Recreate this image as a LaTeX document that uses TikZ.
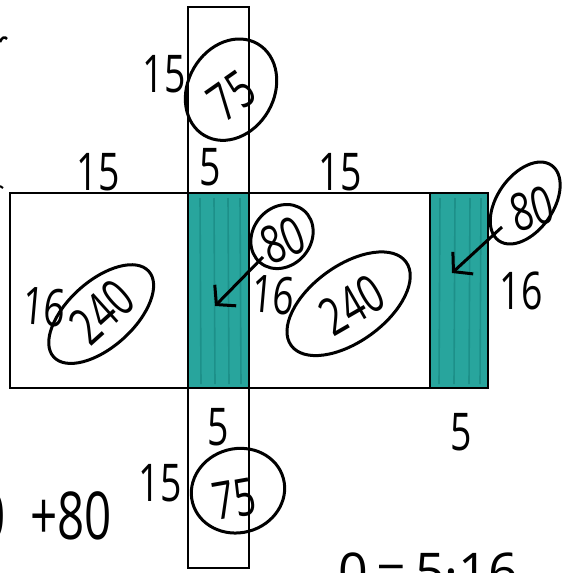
\documentclass[tikz,border=0pt]{standalone}
\usepackage{fontspec}
\setmainfont{Open Sans}
\usepackage{graphicx}
\usetikzlibrary{arrows.meta}
\definecolor{tealfill}{RGB}{40,165,157}
\definecolor{tealdark}{RGB}{20,128,122}
\newcommand{\hw}[1]{\scalebox{0.72}[1]{#1}}
\begin{document}
\begin{tikzpicture}[x=1pt,y=-1pt,
  outline/.style={draw=black,line width=2.6pt},
  lbl/.style={font=\fontsize{52}{52}\selectfont,inner sep=0pt},
  ringline/.style={draw=black,line width=3pt},
  pointer/.style={line width=3pt,-{Straight Barb[length=13pt,width=30pt]}},
  streak/.style={draw=tealdark,line width=1.6pt,opacity=0.55}]
\useasboundingbox (0,0) rectangle (568,573);
\fill[white] (0,0) rectangle (568,573);

% teal strips
\fill[tealfill] (188,193) rectangle (249,388);
\fill[tealfill] (430,193) rectangle (488,388);
\foreach \x in {200,214,228,240} {\draw[streak] (\x,198) -- (\x+1,384);}
\foreach \x in {440,455,470,481} {\draw[streak] (\x,198) -- (\x-1,384);}

% outlines
\draw[outline] (188,7) rectangle (249,568);
\draw[outline] (10,193) rectangle (488,388);
\draw[outline] (430,193) -- (430,388);

% length labels
\node[lbl] (l15tl) at (164,74) {\hw{15}};
\node[lbl] (l5t) at (210,167) {\hw{5}};
\node[lbl] (l15a) at (98,172) {\hw{15}};
\node[lbl] (l15b) at (340,172) {\hw{15}};
\node[lbl,rotate=-5] (l16l) at (44,307) {\hw{16}};
\node[lbl,rotate=-5] (l16m) at (273,295) {\hw{16}};
\node[lbl] (l16r) at (521,291) {\hw{16}};
\node[lbl] (l5b) at (218,427) {\hw{5}};
\node[lbl] (l5r) at (461,432) {\hw{5}};
\node[lbl] (l15bl) at (160,483) {\hw{15}};

% circled areas
\node[lbl,rotate=35] (t75t) at (232,96) {\hw{75}};
\draw[ringline,rotate around={60:(t75t.center)}] (237,92) ellipse [x radius=53,y radius=43];

\node[lbl,rotate=42] (t240l) at (102,312) {\hw{240}};
\draw[ringline,rotate around={42:(t240l.center)}] (100,313) ellipse [x radius=64,y radius=33];

\node[lbl,rotate=30] (t240m) at (352,305) {\hw{240}};
\draw[ringline,rotate around={36:(t240m.center)}] (350,302) ellipse [x radius=71,y radius=38];

\node[lbl,rotate=22] (t80m) at (283,240) {\hw{80}};
\draw[ringline,rotate around={50:(t80m.center)}] (285,237) ellipse [x radius=34,y radius=29];

\node[lbl,rotate=15] (t80r) at (532,209) {\hw{80}};
\draw[ringline,rotate around={55:(t80r.center)}] (533,200) ellipse [x radius=46,y radius=28];

\node[lbl,rotate=10] (t75b) at (234,499) {\hw{75}};
\draw[ringline,rotate around={15:(t75b.center)}] (240,492) ellipse [x radius=47,y radius=42];

% arrows
\coordinate (a1s) at (263,257);
\coordinate (a1e) at (215,306);
\coordinate (a2s) at (502,227);
\coordinate (a2e) at (452,273);
\draw[pointer] (a1s) -- (a1e);
\draw[pointer] (a2s) -- (a2e);

% partial texts at the edges
\node[lbl,font=\fontsize{66}{66}\selectfont,anchor=east] (sum) at (112,516) {\hw{0\hspace{34pt}+80}};
\node[lbl,anchor=north west] (eq) at (338,553) {0\,=\,5·16};
\draw[line width=2.5pt] (0,42) .. controls (2,37) and (5,36) .. (7,39);
\draw[line width=2pt] (0,186) -- (3,188);
\end{tikzpicture}
\end{document}
